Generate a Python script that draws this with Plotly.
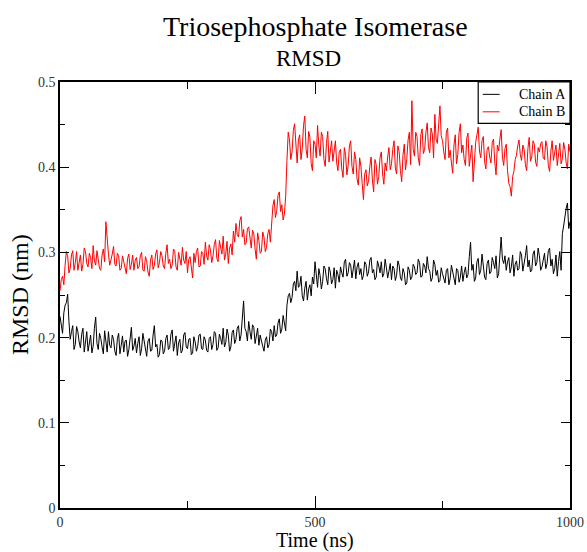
import plotly.graph_objects as go

# Time grid: samples every 5 ns, plus intermediate samples at 2.5 ns offsets
time_main = [5 * i for i in range(201)]
time_mid = [5 * i + 2.5 for i in range(200)]

chain_a_main = [
    0.225, 0.205, 0.238, 0.251, 0.198, 0.214, 0.192, 0.207, 0.188, 0.211,
    0.196, 0.184, 0.203, 0.190, 0.224, 0.186, 0.199, 0.181, 0.195, 0.207,
    0.188, 0.198, 0.179, 0.205, 0.191, 0.183, 0.197, 0.186, 0.212, 0.190,
    0.182, 0.201, 0.187, 0.194, 0.178, 0.199, 0.185, 0.214, 0.192, 0.180,
    0.196, 0.184, 0.203, 0.188, 0.209, 0.191, 0.179, 0.198, 0.185, 0.206,
    0.187, 0.199, 0.182, 0.195, 0.190, 0.204, 0.186, 0.197, 0.183, 0.201,
    0.192, 0.205, 0.188, 0.199, 0.211, 0.194, 0.203, 0.189, 0.209, 0.198,
    0.214, 0.203, 0.243, 0.207, 0.219, 0.198, 0.212, 0.205, 0.191, 0.196,
    0.184, 0.201, 0.192, 0.207, 0.214, 0.203, 0.222, 0.210, 0.219, 0.238,
    0.252, 0.247, 0.266, 0.278, 0.261, 0.249, 0.258, 0.244, 0.262, 0.271,
    0.289, 0.259, 0.273, 0.266, 0.281, 0.262, 0.277, 0.268, 0.258, 0.274,
    0.283, 0.271, 0.292, 0.276, 0.285, 0.279, 0.269, 0.288, 0.281, 0.273,
    0.286, 0.277, 0.294, 0.280, 0.271, 0.284, 0.289, 0.275, 0.282, 0.278,
    0.268, 0.281, 0.273, 0.285, 0.267, 0.276, 0.264, 0.279, 0.271, 0.283,
    0.276, 0.288, 0.272, 0.284, 0.295, 0.278, 0.270, 0.286, 0.279, 0.267,
    0.275, 0.264, 0.281, 0.269, 0.277, 0.262, 0.279, 0.271, 0.266, 0.283,
    0.274, 0.312, 0.286, 0.270, 0.293, 0.279, 0.284, 0.268, 0.291, 0.277,
    0.288, 0.296, 0.275, 0.318, 0.287, 0.279, 0.294, 0.283, 0.272, 0.290,
    0.281, 0.297, 0.285, 0.308, 0.291, 0.279, 0.302, 0.288, 0.296, 0.283,
    0.299, 0.287, 0.305, 0.292, 0.281, 0.272, 0.301, 0.322, 0.345, 0.358,
    0.336,
]

chain_a_mid = [
    0.212, 0.229, 0.241, 0.219, 0.207, 0.186, 0.213, 0.195, 0.204, 0.183,
    0.207, 0.196, 0.182, 0.211, 0.193, 0.205, 0.189, 0.208, 0.183, 0.191,
    0.203, 0.184, 0.199, 0.181, 0.202, 0.196, 0.178, 0.204, 0.185, 0.199,
    0.193, 0.179, 0.205, 0.183, 0.196, 0.184, 0.203, 0.189, 0.177, 0.197,
    0.181, 0.199, 0.186, 0.204, 0.184, 0.202, 0.194, 0.182, 0.203, 0.189,
    0.198, 0.180, 0.201, 0.184, 0.203, 0.187, 0.201, 0.185, 0.199, 0.186,
    0.207, 0.185, 0.204, 0.192, 0.189, 0.210, 0.184, 0.206, 0.193, 0.211,
    0.196, 0.224, 0.211, 0.196, 0.207, 0.215, 0.193, 0.211, 0.203, 0.188,
    0.197, 0.188, 0.210, 0.196, 0.201, 0.217, 0.205, 0.226, 0.208, 0.249,
    0.241, 0.263, 0.255, 0.259, 0.272, 0.243, 0.266, 0.257, 0.249, 0.263,
    0.268, 0.281, 0.257, 0.284, 0.269, 0.283, 0.263, 0.282, 0.279, 0.265,
    0.276, 0.289, 0.272, 0.288, 0.270, 0.291, 0.283, 0.274, 0.268, 0.289,
    0.272, 0.291, 0.276, 0.268, 0.290, 0.276, 0.271, 0.292, 0.270, 0.287,
    0.284, 0.267, 0.290, 0.270, 0.281, 0.262, 0.283, 0.268, 0.286, 0.274,
    0.292, 0.271, 0.287, 0.276, 0.281, 0.266, 0.291, 0.273, 0.265, 0.282,
    0.268, 0.279, 0.262, 0.285, 0.266, 0.281, 0.265, 0.284, 0.276, 0.270,
    0.295, 0.279, 0.266, 0.289, 0.274, 0.298, 0.271, 0.287, 0.275, 0.294,
    0.281, 0.270, 0.301, 0.292, 0.296, 0.289, 0.276, 0.297, 0.286, 0.279,
    0.301, 0.278, 0.296, 0.283, 0.277, 0.298, 0.284, 0.305, 0.279, 0.294,
    0.281, 0.302, 0.284, 0.275, 0.297, 0.289, 0.279, 0.331, 0.352, 0.328,
]

chain_b_main = [
    0.255, 0.272, 0.285, 0.296, 0.281, 0.302, 0.288, 0.279, 0.297, 0.286,
    0.301, 0.283, 0.294, 0.308, 0.285, 0.292, 0.279, 0.304, 0.336, 0.298,
    0.290, 0.307, 0.284, 0.296, 0.281, 0.289, 0.275, 0.298, 0.286, 0.279,
    0.294, 0.283, 0.300, 0.278, 0.290, 0.272, 0.297, 0.285, 0.303, 0.288,
    0.296, 0.281, 0.309, 0.292, 0.285, 0.301, 0.279, 0.293, 0.306, 0.287,
    0.276, 0.295, 0.270, 0.288, 0.305, 0.284, 0.299, 0.312, 0.291, 0.303,
    0.296, 0.315, 0.289, 0.306, 0.319, 0.298, 0.287, 0.310, 0.325, 0.334,
    0.318, 0.342, 0.327, 0.311, 0.330, 0.305, 0.322, 0.292, 0.314, 0.301,
    0.318, 0.306, 0.327, 0.341, 0.362, 0.349, 0.371, 0.356, 0.345, 0.408,
    0.432, 0.418, 0.451, 0.405, 0.438, 0.422, 0.460, 0.411, 0.435, 0.396,
    0.427, 0.449, 0.413, 0.436, 0.401, 0.442, 0.419, 0.407, 0.431, 0.396,
    0.421, 0.388, 0.414, 0.402, 0.431, 0.392, 0.409, 0.379, 0.401, 0.362,
    0.397, 0.384, 0.412, 0.371, 0.403, 0.389, 0.418, 0.380, 0.396, 0.423,
    0.404, 0.431, 0.392, 0.418, 0.383, 0.427, 0.410, 0.441, 0.478, 0.413,
    0.436, 0.402, 0.445, 0.421, 0.452, 0.417, 0.439, 0.462, 0.428, 0.472,
    0.431, 0.409, 0.446, 0.420, 0.393, 0.438, 0.415, 0.451, 0.426, 0.402,
    0.440, 0.418, 0.383, 0.429, 0.447, 0.411, 0.436, 0.398, 0.424, 0.405,
    0.433, 0.391, 0.419, 0.444, 0.402, 0.427, 0.381, 0.366, 0.395, 0.414,
    0.432, 0.408, 0.421, 0.396, 0.435, 0.412, 0.427, 0.401, 0.418, 0.430,
    0.409, 0.424, 0.395, 0.431, 0.415, 0.402, 0.428, 0.410, 0.421, 0.398,
    0.418,
]

chain_b_mid = [
    0.268, 0.262, 0.301, 0.276, 0.297, 0.279, 0.301, 0.291, 0.278, 0.305,
    0.287, 0.299, 0.281, 0.290, 0.302, 0.281, 0.297, 0.289, 0.312, 0.285,
    0.298, 0.286, 0.299, 0.279, 0.296, 0.283, 0.293, 0.280, 0.297, 0.291,
    0.281, 0.296, 0.279, 0.295, 0.277, 0.291, 0.280, 0.298, 0.282, 0.301,
    0.284, 0.299, 0.287, 0.281, 0.304, 0.283, 0.300, 0.285, 0.291, 0.301,
    0.292, 0.279, 0.299, 0.301, 0.283, 0.301, 0.286, 0.296, 0.309, 0.288,
    0.309, 0.293, 0.314, 0.298, 0.291, 0.313, 0.305, 0.297, 0.312, 0.321,
    0.337, 0.318, 0.309, 0.328, 0.313, 0.326, 0.304, 0.323, 0.299, 0.324,
    0.301, 0.322, 0.312, 0.355, 0.341, 0.367, 0.348, 0.338, 0.366, 0.441,
    0.409, 0.443, 0.419, 0.432, 0.409, 0.449, 0.421, 0.442, 0.404, 0.431,
    0.411, 0.425, 0.441, 0.409, 0.428, 0.406, 0.431, 0.424, 0.405, 0.418,
    0.398, 0.423, 0.391, 0.425, 0.401, 0.418, 0.386, 0.411, 0.381, 0.392,
    0.378, 0.401, 0.385, 0.409, 0.380, 0.411, 0.392, 0.405, 0.412, 0.397,
    0.421, 0.399, 0.425, 0.396, 0.414, 0.397, 0.432, 0.403, 0.421, 0.441,
    0.411, 0.438, 0.416, 0.441, 0.423, 0.446, 0.411, 0.433, 0.451, 0.437,
    0.418, 0.441, 0.411, 0.405, 0.426, 0.404, 0.441, 0.417, 0.409, 0.434,
    0.401, 0.426, 0.412, 0.438, 0.419, 0.431, 0.407, 0.421, 0.412, 0.429,
    0.406, 0.426, 0.433, 0.412, 0.422, 0.396, 0.377, 0.389, 0.409, 0.425,
    0.415, 0.426, 0.403, 0.422, 0.407, 0.431, 0.406, 0.423, 0.428, 0.411,
    0.431, 0.402, 0.419, 0.408, 0.426, 0.419, 0.404, 0.429, 0.405, 0.427,
]

series_names = ["Chain A", "Chain B"]
series_colors = ["#000000", "#ff0000"]
x_tickvals = [0, 500, 1000]
y_tickvals = [0, 0.1, 0.2, 0.3, 0.4, 0.5]
y_ticktext = ["0", "0.1", "0.2", "0.3", "0.4", "0.5"]


def merge(t_main, v_main, t_mid, v_mid):
    pts = sorted(list(zip(t_main, v_main)) + list(zip(t_mid, v_mid)))
    return [p[0] for p in pts], [p[1] for p in pts]


FONT = "Liberation Serif"

fig = go.Figure()
for name, color, vm, vh in zip(series_names, series_colors,
                               [chain_a_main, chain_b_main],
                               [chain_a_mid, chain_b_mid]):
    xs, ys = merge(time_main, vm, time_mid, vh)
    fig.add_trace(go.Scatter(
        x=xs, y=ys, mode="lines", name=name, showlegend=False,
        line=dict(color=color, width=1),
    ))

axis_common = dict(
    showline=True, linecolor="black", linewidth=1.5, mirror="allticks",
    ticks="inside", tickwidth=1, tickcolor="black",
    showgrid=False, zeroline=False, automargin=False,
    ticklabeloverflow="allow",
    tickfont=dict(family=FONT, size=14, color="#333333"),
)

fig.update_xaxes(
    range=[0, 1000], tickvals=x_tickvals, ticklen=12,
    minor=dict(ticks="inside", dtick=250, ticklen=7, tickcolor="black", showgrid=False),
    **axis_common,
)
fig.update_yaxes(
    range=[0, 0.5], tickvals=y_tickvals, ticktext=y_ticktext, ticklen=9,
    minor=dict(ticks="inside", dtick=0.05, ticklen=5, tickcolor="black", showgrid=False),
    **axis_common,
)

# Legend box drawn in paper coordinates (top-right corner of the plot)
leg_x0, leg_x1, leg_y0, leg_y1 = 0.820, 1.0, 0.903, 1.0
leg_line_x0, leg_line_x1, leg_text_x = 0.829, 0.862, 0.897
leg_rows_y = [0.971, 0.930]

shapes = [dict(type="rect", xref="paper", yref="paper",
               x0=leg_x0, x1=leg_x1, y0=leg_y0, y1=leg_y1,
               line=dict(color="black", width=1.2), fillcolor="white", layer="above")]
annotations = []
for name, color, ly in zip(series_names, series_colors, leg_rows_y):
    shapes.append(dict(type="line", xref="paper", yref="paper",
                       x0=leg_line_x0, x1=leg_line_x1, y0=ly, y1=ly,
                       line=dict(color=color, width=1), layer="above"))
    annotations.append(dict(text=name, xref="paper", yref="paper",
                            x=leg_text_x, y=ly, xanchor="left", yanchor="middle",
                            showarrow=False,
                            font=dict(family=FONT, size=14, color="black")))

annotations += [
    dict(text="Triosephosphate Isomerase", xref="paper", yref="paper",
         x=0.5, y=1, yshift=56, xanchor="center", yanchor="middle",
         showarrow=False, font=dict(family=FONT, size=28, color="black")),
    dict(text="RMSD", xref="paper", yref="paper",
         x=0.5, y=1, yshift=24, xshift=-7, xanchor="center", yanchor="middle",
         showarrow=False, font=dict(family=FONT, size=23, color="black")),
    dict(text="Time (ns)", xref="paper", yref="paper",
         x=0.5, y=0, yshift=-32, xanchor="center", yanchor="middle",
         showarrow=False, font=dict(family=FONT, size=20, color="black")),
    dict(text="RMSD (nm)", xref="paper", yref="paper",
         x=0, y=0.5, xshift=-40, xanchor="center", yanchor="middle",
         textangle=-90,
         showarrow=False, font=dict(family=FONT, size=24, color="black")),
]

fig.update_layout(
    width=587, height=552,
    margin=dict(l=59.5, r=17, t=82, b=44),
    plot_bgcolor="white", paper_bgcolor="white",
    showlegend=False,
    shapes=shapes,
    annotations=annotations,
)

# Remove the browser's default 8 px body margin so the figure fills the window exactly
fig.write_html(
    "out.html",
    config={"displayModeBar": False},
    post_script="document.body.style.margin='0';document.body.style.overflow='hidden';",
)
